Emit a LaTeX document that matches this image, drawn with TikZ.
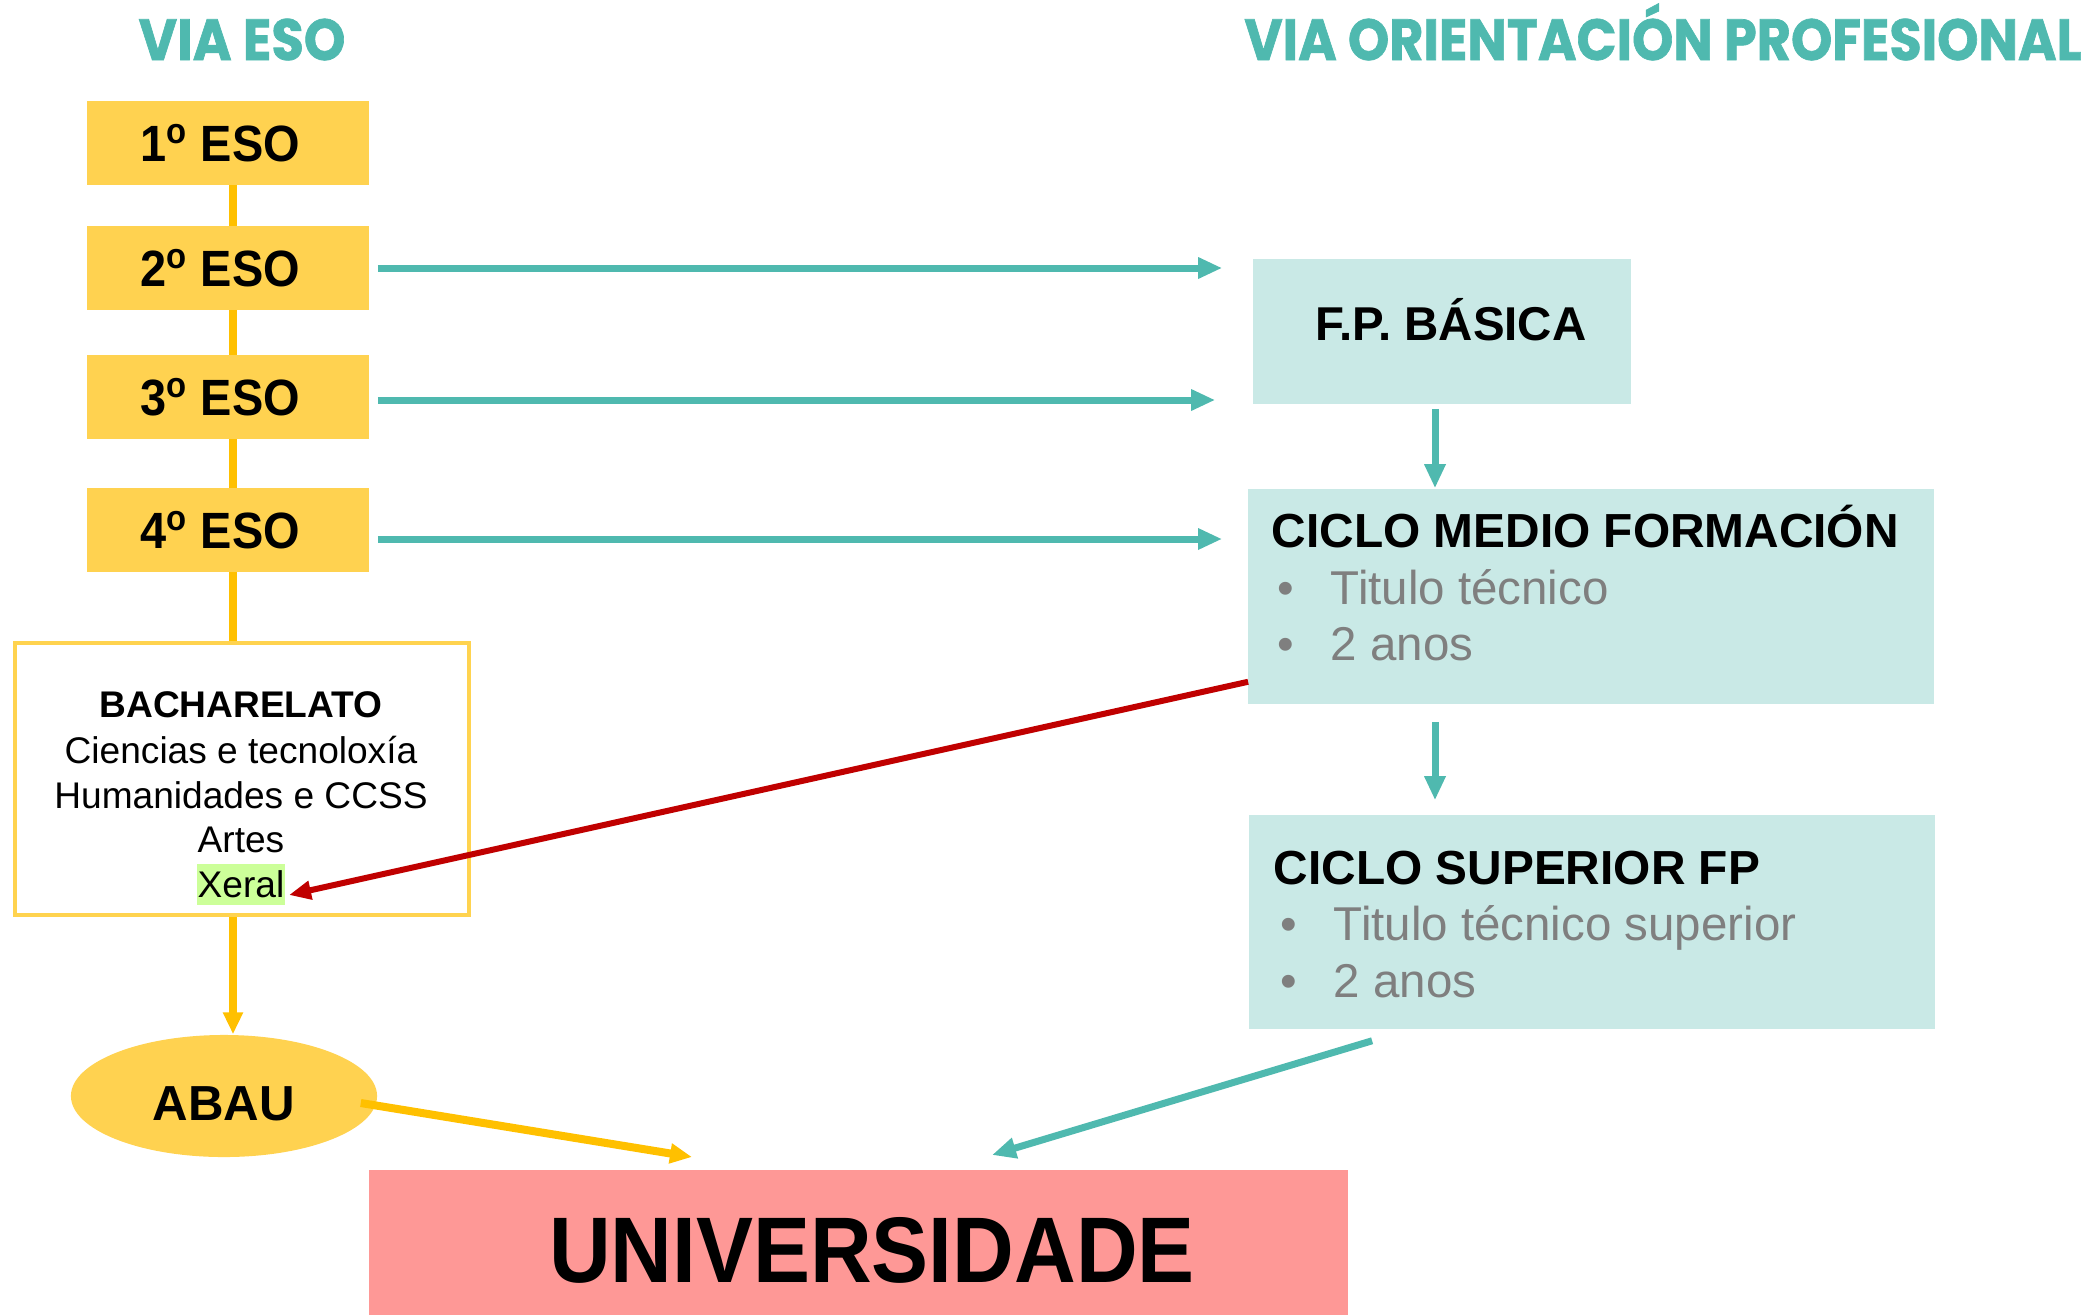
\documentclass[tikz,border=0pt]{standalone}
\usepackage{fontspec}
\usepackage{graphicx}
\setmainfont{Liberation Sans}
\newfontfamily\titfont{Poppins}[BoldFeatures={FakeBold=1.2}]
\usetikzlibrary{calc,arrows.meta,shapes.geometric}
\definecolor{esoyel}{RGB}{255,210,80}
\definecolor{linyel}{RGB}{255,192,0}
\definecolor{bachyel}{RGB}{255,211,79}
\definecolor{fpteal}{RGB}{79,185,175}
\definecolor{fpfill}{RGB}{201,233,230}
\definecolor{ured}{RGB}{192,0,0}
\definecolor{upink}{RGB}{254,152,150}
\definecolor{xgreen}{RGB}{204,255,153}
\definecolor{txtgray}{RGB}{127,127,127}

\begin{document}
\begin{tikzpicture}[x=0.01cm,y=-0.01cm,
    titl/.style={anchor=base,text=fpteal,font=\titfont\bfseries\fontsize{16.5}{18}\selectfont},
    esobox/.style={fill=esoyel,minimum width=2.82cm,minimum height=0.83cm,font=\fontsize{14.5}{16}\selectfont\bfseries},
    fpbox/.style={fill=fpfill,inner sep=0pt},
    boxtitle/.style={anchor=base west,inner sep=0pt,font=\fontsize{13.6}{16}\selectfont\bfseries},
    bul/.style={anchor=base west,inner sep=0pt,text=txtgray,font=\fontsize{13.5}{16}\selectfont},
    bachtxt/.style={inner sep=0pt,font=\fontsize{10.55}{12}\selectfont},
    yline/.style={draw=linyel,line width=0.08cm},
    yarrow/.style={yline,-{Triangle[length=0.22cm,width=0.19cm]}},
    tarrow/.style={draw=fpteal,line width=0.07cm,-{Triangle[length=0.24cm,width=0.2cm]}},
    rarrow/.style={draw=ured,line width=0.06cm,-{Triangle[length=0.22cm,width=0.18cm]}}]
    \useasboundingbox (0,0) rectangle (2091,1315);
    % titulos
    \node[titl] (tEso) at (242,60) {\scalebox{0.91}[1]{VIA ESO}};
    \node[titl] (tOri) at (1663,60) {\scalebox{0.905}[1]{VIA ORIENTACIÓN PROFESIONAL}};
    % via ESO
    \foreach \n/\y in {1/143,2/268,3/397,4/530}
        \node[esobox] (e\n) at (228,\y) {\scalebox{0.92}[1]{\n\textsuperscript{o} ESO}\kern0.16cm};
    \node[draw=bachyel,line width=0.04cm,minimum width=4.54cm,minimum height=2.72cm] (bach) at (242,779) {};
    \foreach \t/\y [count=\i] in {{\bfseries BACHARELATO}/717,Ciencias e tecnoloxía/763,Humanidades e CCSS/808,Artes/852}
        \node[bachtxt,anchor=base] (b\i) at (241,\y) {\t};
    \node[bachtxt,fill=xgreen,inner xsep=0.01cm,minimum height=0.41cm] (xeral) at (241,884.5) {Xeral};
    \node[ellipse,fill=esoyel,inner sep=0pt,minimum width=3.06cm,minimum height=1.22cm,text height=0.5cm,font=\fontsize{14}{16}\selectfont\bfseries] (abau) at (224,1096) {ABAU};
    % via FP
    \node[fpbox,minimum width=3.78cm,minimum height=1.45cm] (fp) at (1442,331.5) {};
    \node[inner sep=0pt,font=\fontsize{13.5}{16}\selectfont\bfseries] (fpT) at (1451,320) {F.P. BÁSICA};
    \node[fpbox,minimum width=6.86cm,minimum height=2.15cm] (cm) at (1591,596.5) {};
    \node[boxtitle] (cmT) at (1271,547) {CICLO MEDIO FORMACIÓN};
    \foreach \t/\y [count=\i] in {Titulo técnico/604,2 anos/660}
        \node[bul] (cm\i) at (1277,\y) {\makebox[0.53cm][l]{\textbullet}\t};
    \node[fpbox,minimum width=6.86cm,minimum height=2.14cm] (cs) at (1592,922) {};
    \node[boxtitle] (csT) at (1273,884) {CICLO SUPERIOR FP};
    \foreach \t/\y [count=\i] in {Titulo técnico superior/940,2 anos/997}
        \node[bul] (cs\i) at (1280,\y) {\makebox[0.53cm][l]{\textbullet}\t};
    \node[fill=upink,minimum width=9.79cm,minimum height=1.45cm] (univ) at (858.5,1242.5) {};
    \node[inner sep=0pt,font=\fontsize{26.5}{28}\selectfont\bfseries] (univT) at (872,1250) {\scalebox{0.917}[1]{UNIVERSIDADE}};
    \coordinate (uL) at (692,1157);
    \coordinate (uR) at (992,1155);
    % conectores
    \foreach \a/\b in {1/2,2/3,3/4}
        \draw[yline] ([xshift=0.05cm]e\a.south) -- ([xshift=0.05cm]e\b.north);
    \draw[yline] ([xshift=0.05cm]e4.south) -- ([xshift=0.05cm]e4.south |- bach.north);
    \draw[yarrow] ([xshift=0.05cm]bach.south -| e4.south) -- ([xshift=0.05cm]abau.north -| e4.south);
    \draw[yarrow] ($(abau.east)+(-17,7)$) -- (uL);
    \foreach \a/\b/\s/\d in {2/fp/0.30cm/0,3/fp/0.37cm/3,4/cm/0.25cm/9}
        \draw[tarrow,shorten <=0.08cm,shorten >=\s] ($(e\a.east)+(0,\d)$) -- ($(e\a.east -| \b.west)+(0,\d)$);
    \draw[tarrow,shorten <=0.04cm] ([xshift=-0.07cm]fp.south) -- ([xshift=-0.07cm]fp.south |- cm.north);
    \draw[tarrow,shorten <=0.17cm,shorten >=0.14cm] ([xshift=-0.07cm]cm.south -| fp.south) -- ([xshift=-0.07cm]cs.north -| fp.south);
    \draw[tarrow] ($(cs.south west)+(124,11)$) -- (uR);
    \draw[rarrow] ($(cm.south west)+(1,-23)$) -- ($(xeral.east)+(3,10.5)$);
\end{tikzpicture}
\end{document}
